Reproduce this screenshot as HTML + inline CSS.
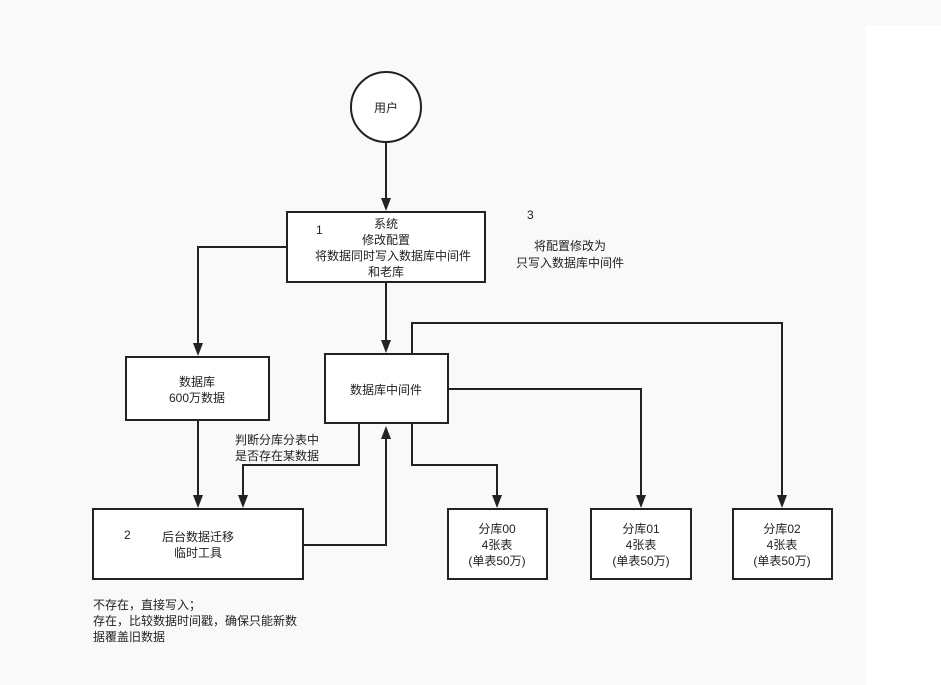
<!DOCTYPE html>
<html><head><meta charset="utf-8"><style>
html,body{margin:0;padding:0;background:#f9f9f9;}
svg{display:block;}
text{font-family:"Liberation Sans","Noto Sans CJK SC",sans-serif;font-size:12px;fill:#222;}
</style></head><body>
<svg width="941" height="685" viewBox="0 0 941 685" xmlns="http://www.w3.org/2000/svg">
<defs><marker id="a" markerWidth="10" markerHeight="12" refX="5" refY="11" orient="auto" markerUnits="userSpaceOnUse" viewBox="0 0 10 12"><path d="M0,0 L5,12 L10,0 Z" fill="#222" transform="rotate(0)"/></marker></defs>
<rect x="0" y="0" width="941" height="685" fill="#f9f9f9"/>
<rect x="865" y="25" width="76" height="660" fill="#fff"/>
<g fill="none" stroke="#222" stroke-width="2">
<circle cx="386" cy="107" r="35" fill="#fff"/>
<path d="M386 142 V199"/>
<path d="M287 247 H198 V344"/>
<path d="M386 282 V341"/>
<path d="M412 354 V323 H782 V496"/>
<path d="M448 389 H641 V496"/>
<path d="M412 423 V465 H497 V496"/>
<path d="M198 420 V496"/>
<path d="M359 423 V465 H243 V496"/>
<path d="M303 545 H386 V438"/>
<rect x="287" y="212" width="198" height="70" fill="#fff"/>
<rect x="126" y="357" width="143" height="63" fill="#fff"/>
<rect x="325" y="354" width="123" height="69" fill="#fff"/>
<rect x="93" y="509" width="210" height="70" fill="#fff"/>
<rect x="448" y="509" width="99" height="70" fill="#fff"/>
<rect x="591" y="509" width="100" height="70" fill="#fff"/>
<rect x="733" y="509" width="99" height="70" fill="#fff"/>
</g>
<g fill="#222">
<path d="M381 198 L391 198 L386 211 Z"/>
<path d="M193 343 L203 343 L198 356 Z"/>
<path d="M381 340 L391 340 L386 353 Z"/>
<path d="M777 495 L787 495 L782 508 Z"/>
<path d="M636 495 L646 495 L641 508 Z"/>
<path d="M492 495 L502 495 L497 508 Z"/>
<path d="M193 495 L203 495 L198 508 Z"/>
<path d="M238 495 L248 495 L243 508 Z"/>
<path d="M381 439 L391 439 L386 426 Z"/>
</g>
<g text-anchor="middle">
<text x="386" y="112">用户</text>
<text x="386" y="228">系统</text>
<text x="386" y="244">修改配置</text>
<text x="393" y="260">将数据同时写入数据库中间件</text>
<text x="386" y="276">和老库</text>
<text x="197" y="386">数据库</text>
<text x="197" y="402">600万数据</text>
<text x="386" y="394">数据库中间件</text>
<text x="198" y="541">后台数据迁移</text>
<text x="198" y="557">临时工具</text>
<text x="497" y="533">分库00</text><text x="497" y="549">4张表</text><text x="497" y="565">(单表50万)</text>
<text x="641" y="533">分库01</text><text x="641" y="549">4张表</text><text x="641" y="565">(单表50万)</text>
<text x="782" y="533">分库02</text><text x="782" y="549">4张表</text><text x="782" y="565">(单表50万)</text>
<text x="570" y="250">将配置修改为</text>
<text x="570" y="267">只写入数据库中间件</text>
<text x="277" y="444">判断分库分表中</text>
<text x="277" y="460">是否存在某数据</text>
</g>
<text x="316" y="234">1</text>
<text x="527" y="219">3</text>
<text x="124" y="539">2</text>
<text x="93" y="609">不存在，直接写入；</text>
<text x="93" y="625">存在，比较数据时间戳，确保只能新数</text>
<text x="93" y="641">据覆盖旧数据</text>
</svg>
</body></html>
